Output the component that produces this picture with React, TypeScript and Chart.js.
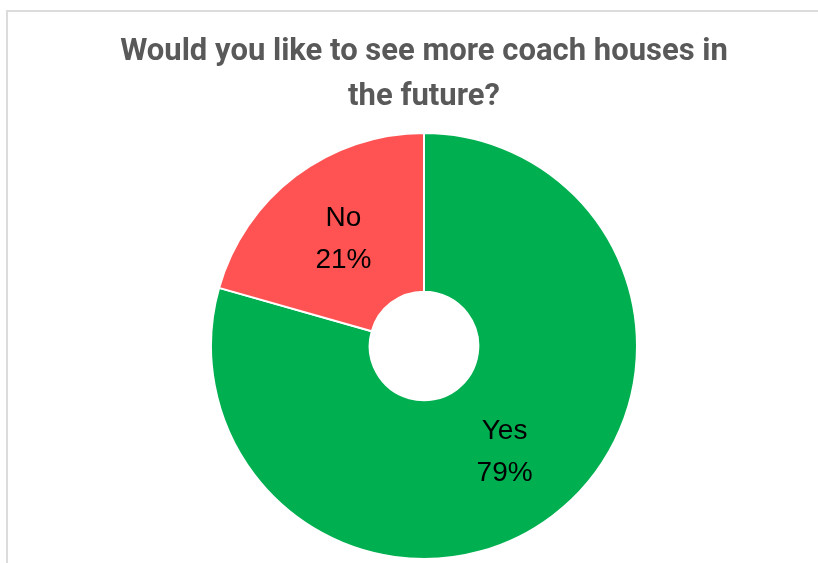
import React, { useEffect, useRef } from "react";
import { Chart, registerables } from "chart.js";

Chart.register(...registerables);

const titleLines = ["Would you like to see more coach houses in", "the future?"];
const categories = ["Yes", "No"];
const values = [79.4, 20.6];
const percentLabels = ["79%", "21%"];
const colors = ["#00B050", "#FF5353"];

const sliceLabelPlugin = {
  id: "sliceLabels",
  afterDatasetsDraw(chart: any) {
    const ctx = chart.ctx;
    const meta = chart.getDatasetMeta(0);
    ctx.save();
    ctx.fillStyle = "#000000";
    ctx.font = "28px 'Liberation Sans', Arial, sans-serif";
    ctx.textAlign = "center";
    ctx.textBaseline = "middle";
    meta.data.forEach((arc: any, i: number) => {
      const p = arc.tooltipPosition();
      ctx.fillText(String(chart.data.labels[i]), p.x, p.y - 21);
      ctx.fillText(percentLabels[i], p.x, p.y + 21);
    });
    ctx.restore();
  },
};

export default function App() {
  const ref = useRef<HTMLCanvasElement | null>(null);
  useEffect(() => {
    document.body.style.margin = "0";
    if (!ref.current) return;
    const chart = new Chart(ref.current, {
      type: "doughnut",
      data: {
        labels: categories,
        datasets: [
          {
            data: values,
            backgroundColor: colors,
            borderColor: "#ffffff",
            borderWidth: 2,
          },
        ],
      },
      options: {
        animation: false,
        responsive: false,
        cutout: "25.5%",
        layout: { padding: { left: 30, right: 0, top: 0, bottom: 3 } },
        plugins: {
          legend: { display: false },
          tooltip: { enabled: false },
          title: {
            display: true,
            text: titleLines,
            color: "#595959",
            font: { family: "Roboto, 'Liberation Sans', sans-serif", size: 31, weight: "bold", lineHeight: 45 / 31 },
            padding: { top: 30, bottom: 12 },
          },
        },
      },
      plugins: [sliceLabelPlugin],
    });
    return () => chart.destroy();
  }, []);
  return (
    <div style={{ position: "relative", width: 818, height: 563, background: "#ffffff" }}>
      <div
        style={{
          position: "absolute",
          left: 6,
          top: 10,
          right: 0,
          bottom: 0,
          borderTop: "2px solid #dcdcdc",
          borderLeft: "2px solid #dcdcdc",
        }}
      />
      <canvas ref={ref} width={818} height={563} style={{ position: "absolute", left: 0, top: 0 }} />
    </div>
  );
}
